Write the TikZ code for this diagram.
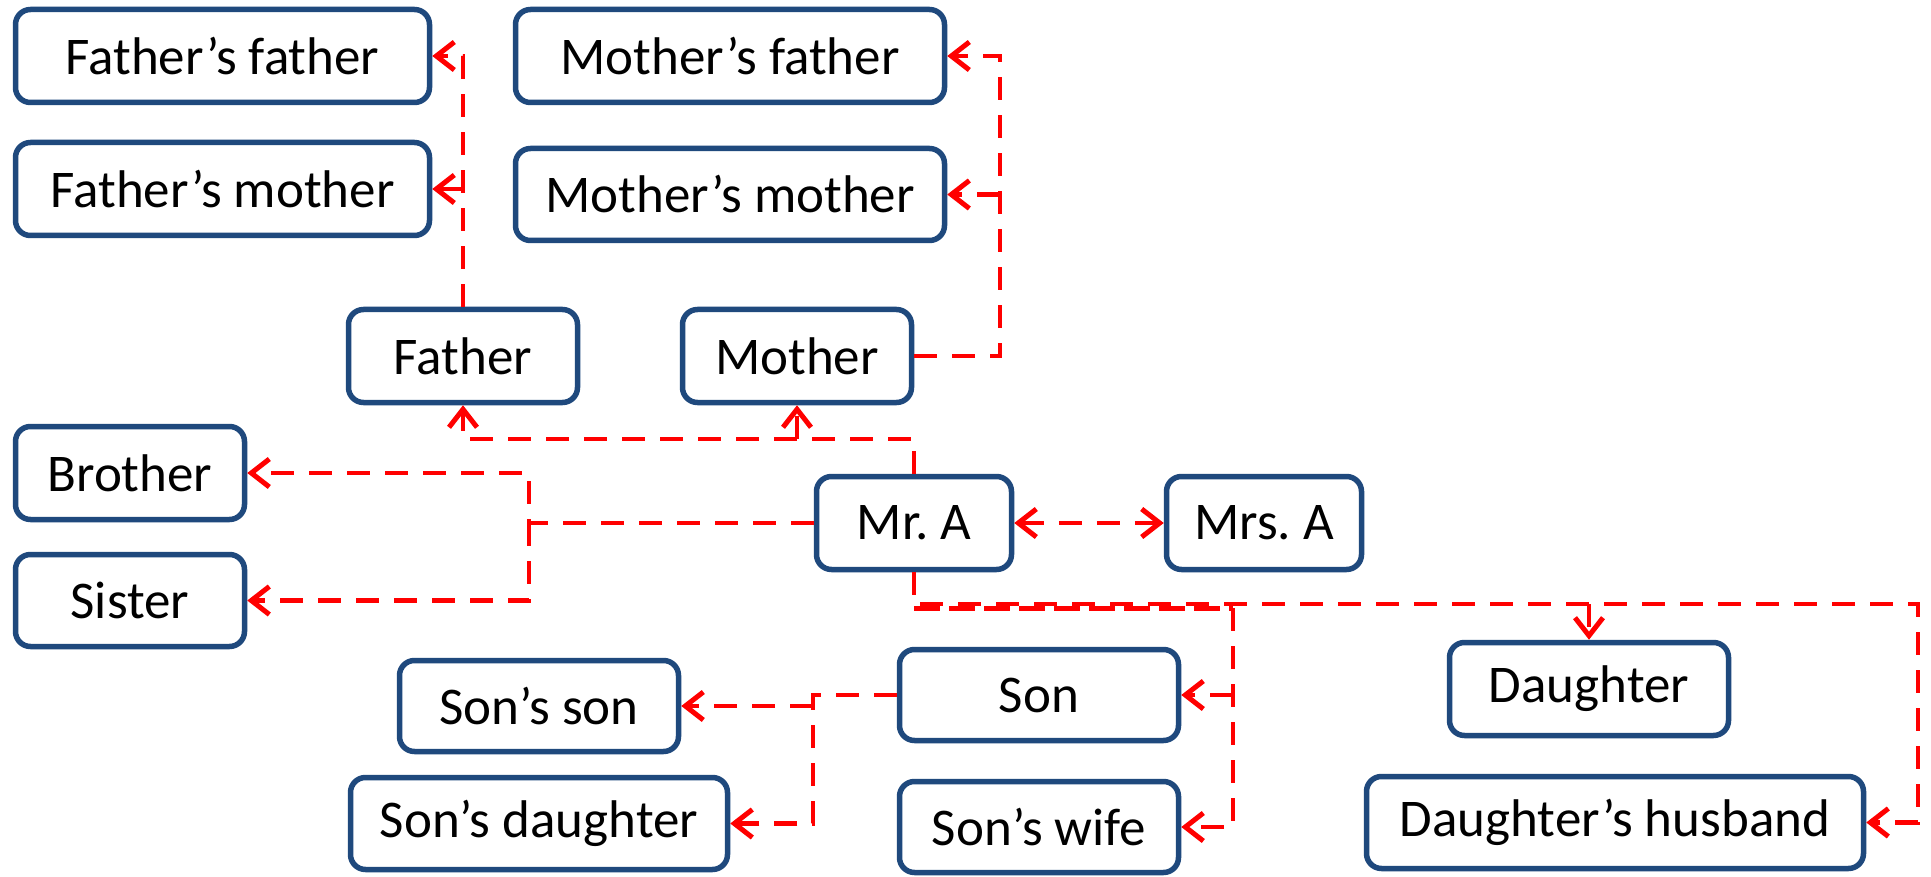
\documentclass[tikz,border=0pt]{standalone}
\usepackage{fontspec}
\setmainfont{Carlito}
\usetikzlibrary{arrows.meta}
\definecolor{boxblue}{RGB}{31,73,125}
\definecolor{linered}{RGB}{255,0,0}
\begin{document}
\begin{tikzpicture}[x=1pt,y=-1pt,
  box/.style={draw=boxblue,line width=5.5pt,rounded corners=15pt,fill=white,
    inner sep=0pt,font=\fontsize{53}{56}\selectfont,text=black},
  conn/.style={draw=linered,line width=4.5pt,dash pattern=on 23pt off 15pt},
  band/.style={draw=linered,line width=5pt,dash pattern=on 26pt off 9pt},
  tip/.style={-{Straight Barb[length=18pt,width=28pt,line width=5pt]}},
  btip/.style={{Straight Barb[length=18pt,width=28pt,line width=5pt]}-{Straight Barb[length=18pt,width=28pt,line width=5pt]}}]
\useasboundingbox[fill=white] (0,0) rectangle (1931,877);
% boxes
\node[box,minimum width=414pt,minimum height=93pt] (ff) at (222.5,56) {Father’s father};
\node[box,minimum width=414pt,minimum height=93pt] (fm) at (222.5,189) {Father’s mother};
\node[box,minimum width=429pt,minimum height=93pt] (mf) at (730,56) {Mother’s father};
\node[box,minimum width=429pt,minimum height=92pt] (mm) at (730,194.5) {Mother’s mother};
\node[box,minimum width=229pt,minimum height=93pt] (fa) at (463,356) {Father};
\node[box,minimum width=229pt,minimum height=93pt] (mo) at (797,356) {Mother};
\node[box,minimum width=229pt,minimum height=93pt] (br) at (130,473) {Brother};
\node[box,minimum width=229pt,minimum height=92pt] (si) at (130,600.5) {Sister};
\node[box,minimum width=195pt,minimum height=93pt] (mra) at (914,523) {Mr.\ A};
\node[box,minimum width=195pt,minimum height=93pt] (mrsa) at (1264,523) {Mrs.\ A};
\node[box,minimum width=279pt,minimum height=91pt] (ss) at (539,706) {Son’s son};
\node[box,minimum width=377pt,minimum height=92pt] (sd) at (539,823.5) {Son’s daughter};
\node[box,minimum width=279pt,minimum height=91pt] (son) at (1039,695) {Son};
\node[box,minimum width=279pt,minimum height=91pt] (sw) at (1039,827) {Son’s wife};
\node[box,minimum width=279pt,minimum height=93pt] (da) at (1589,689) {Daughter};
\node[box,minimum width=497pt,minimum height=92pt] (dh) at (1615,822.5) {Daughter’s husband};
% junction coordinates
\coordinate (mx) at (1000,356);
\coordinate (pj) at (914,439);
\coordinate (sj) at (529,523);
\coordinate (kj) at (1233,608);
\coordinate (dj) at (1918,604);
\coordinate (gj) at (813,695);
% connectors
\draw[conn,tip] (fa.north) |- (ff.east);
\draw[conn,tip] (fa.north |- fm.east) -- (fm.east);
\draw[conn,tip] (mo.east) -- (mx) |- (mf.east);
\draw[conn,tip] (mx |- mm.east) -- (mm.east);
\draw[conn,tip] (mra.north) -- (pj) -| (fa.south);
\draw[conn,tip] (mo.south |- pj) -- (mo.south);
\draw[conn,tip] (mra.west) -- (sj) |- (br.east);
\draw[conn,tip] (sj) |- (si.east);
\draw[conn,btip] (mra.east) -- (mrsa.west);
\draw[conn,tip] (mra.south) |- (dj) |- (dh.east);
\draw[conn,tip] (da.north |- dj) -- (da.north);
\draw[band] (mra.south |- kj) -- (kj);
\draw[conn] (mra.south) -- (mra.south |- kj);
\draw[conn,tip] (kj) |- (sw.east);
\draw[conn,tip] (kj |- son.east) -- (son.east);
\draw[conn,tip] (son.west) -- (gj) |- (sd.east);
\draw[conn,tip] (gj |- ss.east) -- (ss.east);
\end{tikzpicture}
\end{document}
